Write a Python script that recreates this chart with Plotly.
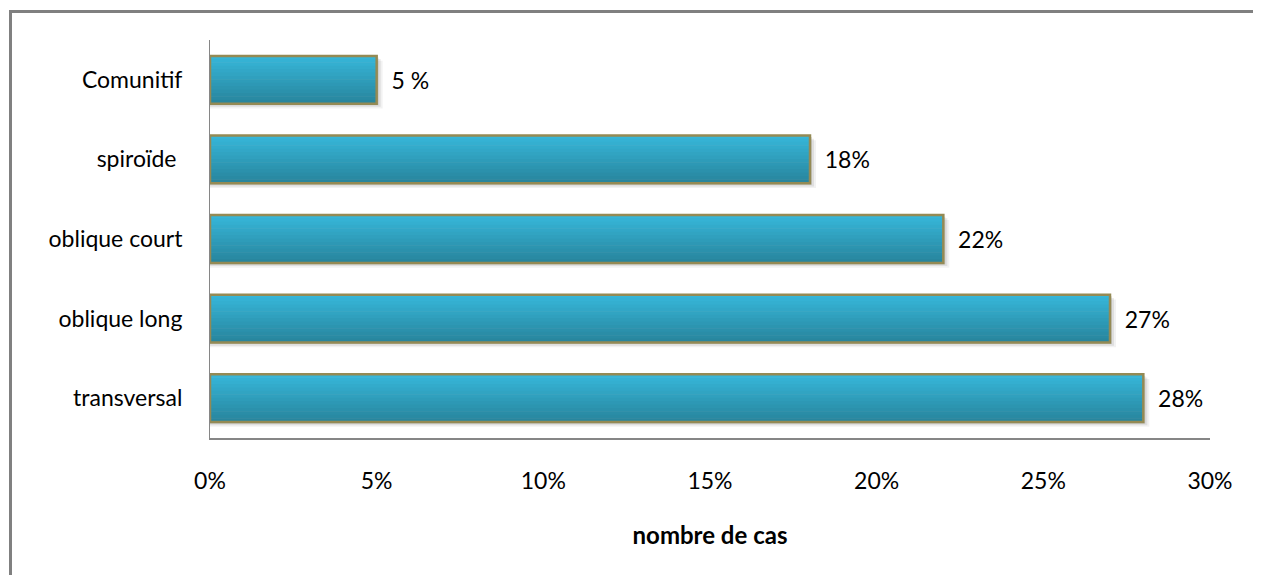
import plotly.graph_objects as go

categories = ["transversal", "oblique long", "oblique court", "spiroïde ", "Comunitif"]
values = [28, 27, 22, 18, 5]
value_labels = ["28%", "27%", "22%", "18%", "5 %"]
x_ticks = [0, 5, 10, 15, 20, 25, 30]
x_tick_labels = ["0%", "5%", "10%", "15%", "20%", "25%", "30%"]

FONT = "Lato"
FS = 23
BAR_W = 0.6
N_SLICES = 14
top_rgb = (54, 182, 217)
bot_rgb = (40, 134, 158)
PAD = "\u00a0\u00a0"

fig = go.Figure()

# soft shadow below bars
for k, a in enumerate([0.10, 0.08, 0.05]):
    fig.add_trace(go.Bar(
        y=categories, x=[v + 0.06 * (k + 1) for v in values], orientation="h",
        width=BAR_W, offset=-BAR_W / 2 - 0.02 * (k + 1),
        marker=dict(color=f"rgba(0,0,0,{a})", line=dict(width=0)),
        hoverinfo="skip", showlegend=False))

# gradient fill (top light to bottom dark)
h = BAR_W / N_SLICES
for i in range(N_SLICES):
    t = i / (N_SLICES - 1)
    c = tuple(round(top_rgb[j] + (bot_rgb[j] - top_rgb[j]) * t) for j in range(3))
    fig.add_trace(go.Bar(
        y=categories, x=values, orientation="h",
        width=h * 1.15, offset=BAR_W / 2 - (i + 1) * h,
        marker=dict(color=f"rgb{c}", line=dict(width=0)),
        hoverinfo="skip", showlegend=False))

# outline + labels
fig.add_trace(go.Bar(
    y=categories, x=values, orientation="h", width=BAR_W,
    marker=dict(color="rgba(0,0,0,0)", line=dict(color="#948A54", width=2.5)),
    text=[PAD + s for s in value_labels], textposition="outside", cliponaxis=False,
    textfont=dict(family=FONT, size=FS, color="#000000"),
    showlegend=False))

fig.update_layout(
    width=1253, height=567,
    margin=dict(l=202, r=51, t=32, b=137),
    paper_bgcolor="white", plot_bgcolor="white",
    barmode="overlay",
    font=dict(family=FONT, size=FS, color="#000000"),
    xaxis=dict(
        range=[0, 30], tickvals=x_ticks, ticktext=x_tick_labels,
        showgrid=False, zeroline=False, showline=True, linecolor="#868686", linewidth=2,
        ticks="", ticklabelstandoff=21,
        tickfont=dict(family=FONT, size=FS),
        title=dict(text="<b>nombre de cas</b>", font=dict(family=FONT, size=24), standoff=35),
    ),
    yaxis=dict(
        range=[-0.5, 4.5], showgrid=False, zeroline=False,
        showline=True, linecolor="#868686", linewidth=1,
        ticks="", ticklabelstandoff=22,
        tickfont=dict(family=FONT, size=FS),
    ),
    shapes=[dict(type="rect", xref="paper", yref="paper",
                 x0=-0.1995, x1=1.0475, y0=-0.4, y1=1.0716,
                 line=dict(color="#808080", width=3), fillcolor="rgba(0,0,0,0)", layer="below")],
)
fig.update_traces(textangle=0)

fig.write_html("out.html")
